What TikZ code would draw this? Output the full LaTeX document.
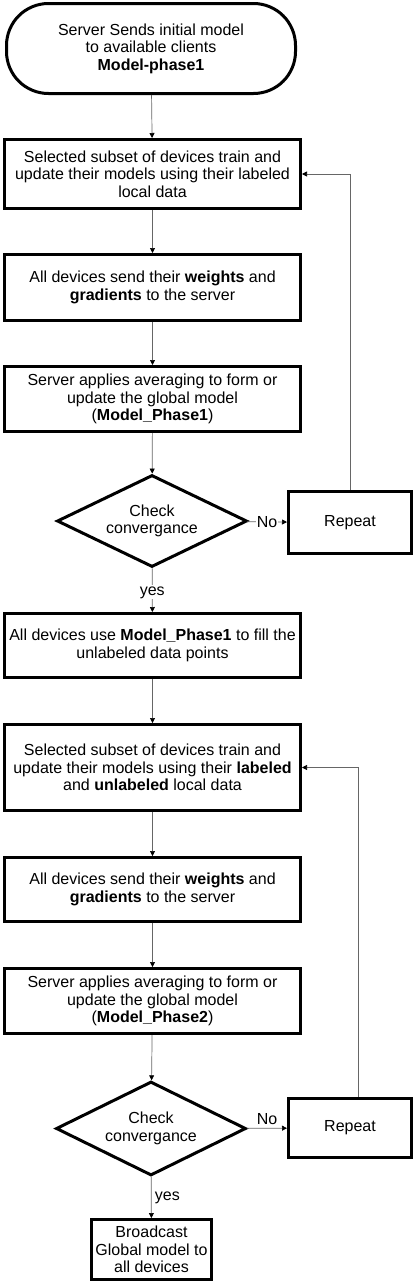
\documentclass[tikz,border=0pt]{standalone}
\usepackage{fontspec}
\setmainfont{Liberation Sans}
\usetikzlibrary{shapes.geometric, arrows.meta}

\begin{document}
\begin{tikzpicture}[
  x=1pt, y=-1pt,
  every node/.style={align=center, font=\fontsize{16}{17.5}\selectfont},
  startbox/.style={rectangle, rounded corners=42pt, draw=black, line width=3pt, minimum width=289pt, minimum height=90pt},
  procbox/.style={rectangle, sharp corners, draw=black, line width=3pt, minimum width=296pt, inner sep=2pt},
  decision/.style={diamond, aspect=2.05, draw=black, line width=3pt, minimum width=190pt, minimum height=92pt, inner sep=0pt},
  repbox/.style={rectangle, draw=black, line width=3pt, minimum width=123pt},
  arrow/.style={-{Triangle[length=5pt, width=5pt, black]}, line width=0.7pt, black!60},
  lbl/.style={fill=white, inner sep=1pt, text=black}
]
\useasboundingbox (0,0) rectangle (414,1282);

% Phase 1
\node[startbox] (start) at (151,48.5) {Server Sends initial model\\to available clients\\\textbf{Model-phase1}};

\node[procbox, minimum height=69pt] (train1) at (152.5,174) {Selected subset of devices train and\\update their models using their labeled\\local data};

\node[procbox, minimum height=66pt] (send1) at (152.5,287.5) {All devices send their \textbf{weights} and\\\textbf{gradients} to the server};

\node[procbox, minimum height=65pt] (avg1) at (152.5,399) {Server applies averaging to form or\\update the global model\\(\textbf{Model\_Phase1})};

\node[decision] (check1) at (152,521) {Check\\convergance};

\node[repbox, minimum height=62pt] (rep1) at (350,522.5) {Repeat};

% Phase 2
\node[procbox, minimum height=64pt] (fill) at (152.5,645.5) {All devices use \textbf{Model\_Phase1} to fill the\\unlabeled data points};

\node[procbox, minimum height=86pt] (train2) at (152.5,767.5) {Selected subset of devices train and\\update their models using their \textbf{labeled}\\and \textbf{unlabeled} local data};

\node[procbox, minimum height=64pt] (send2) at (152.5,889.5) {All devices send their \textbf{weights} and\\\textbf{gradients} to the server};

\node[procbox, minimum height=65pt] (avg2) at (152.5,1001) {Server applies averaging to form or\\update the global model\\(\textbf{Model\_Phase2})};

\node[decision, minimum height=94pt] (check2) at (151,1128.5) {Check\\convergance};

\node[repbox, minimum height=59pt] (rep2) at (350,1128) {Repeat};

\node[repbox, minimum width=120pt, minimum height=60pt, inner sep=1pt] (bcast) at (151.5,1249.5) {Broadcast\\Global model to\\all devices};

% Arrows
\draw[arrow] (start) -- (train1);
\draw[arrow] (train1) -- (send1);
\draw[arrow] (send1) -- (avg1);
\draw[arrow] (avg1) -- (check1);
\draw[arrow] (check1) -- node[lbl] {No} (rep1);
\draw[arrow] (rep1.north) |- (train1.east);
\draw[arrow] (check1) -- node[lbl, pos=0.55] {yes} (fill);
\draw[arrow] (fill) -- (train2);
\draw[arrow] (train2) -- (send2);
\draw[arrow] (send2) -- (avg2);
\draw[arrow] (avg2) -- (check2);
\draw[arrow] (check2) -- node[above, text=black] {No} (rep2);
\draw[arrow] ([xshift=8pt]rep2.north) |- (train2.east);
\draw[arrow] (check2) -- node[right, text=black] {yes} (bcast);

\end{tikzpicture}
\end{document}
